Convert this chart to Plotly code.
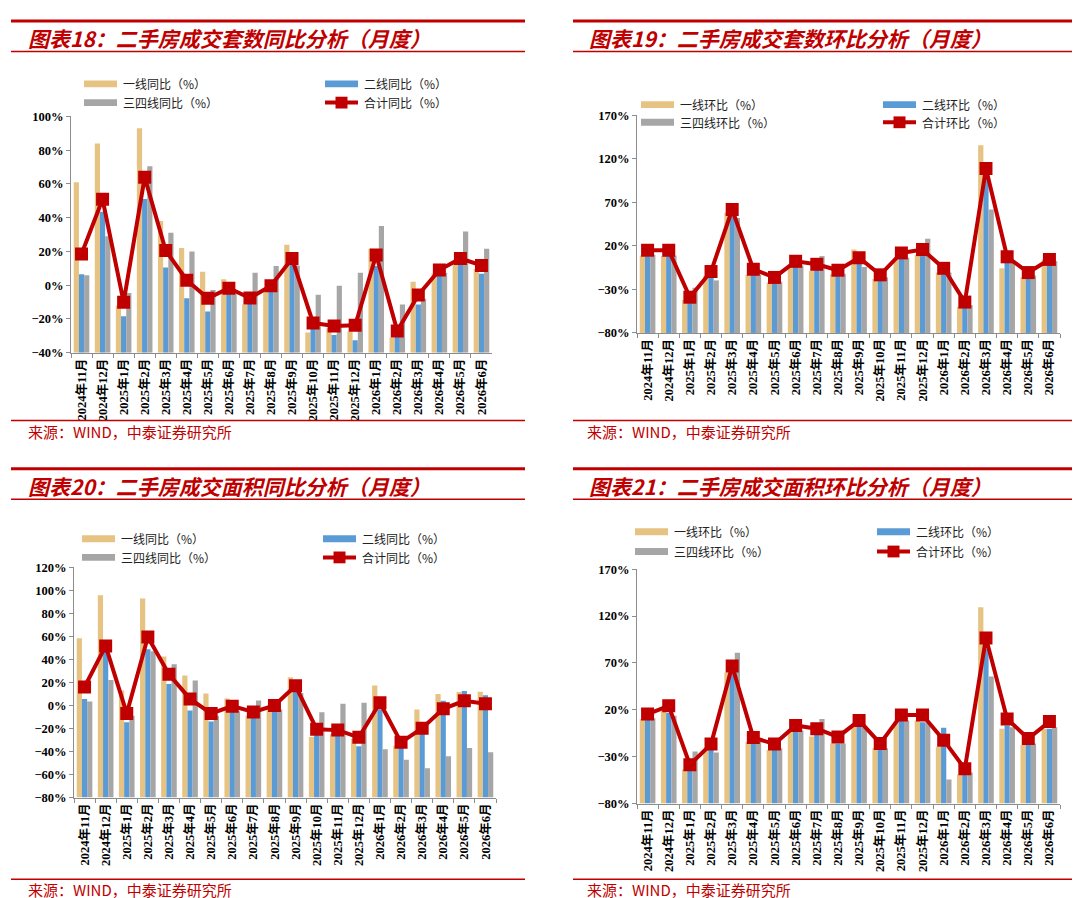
import plotly.graph_objects as go

W, H = 1080, 898
RED = "#C00000"
C_T1 = "#E6C382"
C_T2 = "#5B9BD5"
C_T34 = "#A6A6A6"

months = ["2024年11月", "2024年12月", "2025年1月", "2025年2月", "2025年3月",
          "2025年4月", "2025年5月", "2025年6月", "2025年7月", "2025年8月",
          "2025年9月", "2025年10月", "2025年11月", "2025年12月", "2026年1月",
          "2026年2月", "2026年3月", "2026年4月", "2026年5月", "2026年6月"]

# 图表18 套数同比 (%)
t1_yoy_units = [61, 84, -12, 93, 38, 22, 8, 3.5, -11.5, -3, 24, -28, -25.5, -27.5, 21.5, -31, 2, 7, 13, 9.5]
t2_yoy_units = [6.5, 43.5, -18.5, 51, 10.5, -7.8, -15.6, -5.3, -10, -3, 13, -25.5, -29.6, -32.7, 11.3, -30, -11.5, 5.5, 12, 6.8]
t34_yoy_units = [5.8, 29, -4.7, 70.5, 31, 20, -2.9, -5, 7.4, 11.3, 11.7, -5.7, -0.4, 7.4, 35, -11.5, -8, 7.4, 31.8, 21.6]
total_yoy_units = [18.5, 50.9, -10.1, 63.9, 20.5, 2.9, -7.8, -1.8, -7.6, -0.4, 15.8, -22.4, -24.2, -23.8, 17.9, -27.1, -5.8, 9, 15.8, 11.7]

# 图表19 套数环比 (%)
t1_mom_units = [9, 8.3, -42, -14, 58, -13.2, -22, -5, -8.7, -12.5, 15.8, -18, 4.5, 10, -10.6, -50, 135.8, -5.7, -16, 4.5]
t2_mom_units = [10, 8.3, -42, -15, 56, -12.5, -22, -3, -6, -14, 1.5, -18, 6.4, 8.3, -12.5, -50, 97, 2.6, -16, 0.8]
t34_mom_units = [10, 9, -28, -19.6, 52, -13, -21, -2.3, 8.3, -12, -4.2, -16, 6.4, 28.3, -10.6, -48, 62, 0.8, -14, 2.6]
total_mom_units = [15.1, 15, -38.9, -9.4, 61.9, -6.8, -16.2, 2.3, -1.1, -7.9, 6.4, -13.2, 12, 15.8, -5.7, -44.5, 109, 7.5, -10.6, 4.5]

# 图表20 面积同比 (%)
t1_yoy_area = [58.3, 95.7, 13, 92.9, 42.6, 26, 10.3, 6, -9, -3.4, 24.6, -27.4, -24.9, -29, 17.4, -34.9, -3.4, 10, 11.7, 12]
t2_yoy_area = [5.7, 46.6, -14.6, 48.9, 18.6, -4.3, -14, -3.4, -10.6, -5, 13.7, -23.4, -26, -35.4, -3.4, -36.3, -23.4, 4, 12.6, 8.9]
t34_yoy_area = [3.4, 22, -9, 47, 35.7, 21.7, -9, -5, 4.3, -3.4, 10.9, -6, 1.4, 2.3, -38, -47.1, -54.6, -44, -36.9, -40.6]
total_yoy_area = [16, 51.7, -6.9, 59.4, 27.1, 5.7, -6.9, -0.6, -5.7, 0, 17.1, -20.6, -21.4, -27.7, 2.3, -32, -19.7, -2.9, 4, 1.4]

# 图表21 面积环比 (%)
t1_mom_area = [10.2, 19, -43.8, -22.9, 59.7, -14.2, -22.9, -3.7, -8.6, -16, 3.3, -21, 6.8, 8.5, -19.4, -49, 129.5, -0.2, -17.7, -0.2]
t2_mom_area = [10, 16.5, -42, -21.1, 59, -14.9, -22.9, -3, -3.7, -16, 3.3, -21, 8.5, 6.8, 0.8, -49, 85.2, 3.3, -17.7, -0.2]
t34_mom_area = [11, 13.7, -24.6, -25.7, 81, -14.2, -21, -2, 10.2, -16, 1.5, -21, 8.5, 6.8, -54.3, -47, 55.6, 1.5, -16, 1.5]
total_mom_area = [15.5, 24.2, -38.6, -16.6, 66.7, -9.6, -16.6, 3.3, -0.2, -8.9, 8.5, -15.9, 14.4, 14.4, -12.4, -43, 96.7, 10.2, -10.7, 7.4]

yoy_names = ["一线同比（%）", "二线同比（%）", "三四线同比（%）", "合计同比（%）"]
mom_names = ["一线环比（%）", "二线环比（%）", "三四线环比（%）", "合计环比（%）"]


def fx(x):
    return x / W


def fy(y):
    return 1 - y / H


# layout of each panel, in pixels of the 1080x898 page
panels = [
    dict(title="图表18：二手房成交套数同比分析（月度）", names=yoy_names,
         series=(t1_yoy_units, t2_yoy_units, t34_yoy_units, total_yoy_units),
         yr=(-40, 100), dtick=20, plot=(63, 484, 103, 343),
         lx=(3, 517), top=6, thin=37, src=412, tx=18, ty=23, sx=18, sy=423,
         leg=(76, 317, 70, 89)),
    dict(title="图表19：二手房成交套数环比分析（月度）", names=mom_names,
         series=(t1_mom_units, t2_mom_units, t34_mom_units, total_mom_units),
         yr=(-80, 170), dtick=50, plot=(629, 1052, 102, 323),
         lx=(565, 1078), top=6, thin=37, src=412, tx=579, ty=23, sx=577, sy=423,
         leg=(633, 875, 91, 109)),
    dict(title="图表20：二手房成交面积同比分析（月度）", names=yoy_names,
         series=(t1_yoy_area, t2_yoy_area, t34_yoy_area, total_yoy_area),
         yr=(-80, 120), dtick=20, plot=(66, 488, 561, 795),
         lx=(3, 517), top=461, thin=492, src=878, tx=18, ty=478, sx=18, sy=888,
         leg=(74, 315, 532, 551)),
    dict(title="图表21：二手房成交面积环比分析（月度）", names=mom_names,
         series=(t1_mom_area, t2_mom_area, t34_mom_area, total_mom_area),
         yr=(-80, 170), dtick=50, plot=(629, 1052, 563, 801),
         lx=(565, 1078), top=461, thin=492, src=878, tx=579, ty=478, sx=577, sy=888,
         leg=(627, 869, 525, 545)),
]

TICK_FONT = dict(family="Liberation Serif, Noto Sans CJK SC, serif", size=12.5,
                 color="#000000", weight="bold")
CJK = "Noto Sans CJK SC, sans-serif"

fig = go.Figure()
shapes = []
annotations = []
layout = {}

for i, p in enumerate(panels):
    s = "" if i == 0 else str(i + 1)
    xa, ya = "x" + s, "y" + s
    ymin, ymax = p["yr"]
    x0, x1, y0, y1 = p["plot"]

    # bars start from the bottom of the axis, as in the original Excel chart
    for vals, col, name in zip(p["series"][:3], (C_T1, C_T2, C_T34), p["names"][:3]):
        fig.add_trace(go.Bar(
            x=months, y=[v - ymin for v in vals], base=ymin,
            customdata=vals, hovertemplate="%{x}<br>%{customdata}%<extra>" + name + "</extra>",
            marker=dict(color=col, line=dict(width=0)),
            name=name, showlegend=False, xaxis=xa, yaxis=ya))

    fig.add_trace(go.Scatter(
        x=months, y=p["series"][3], mode="lines+markers", name=p["names"][3],
        line=dict(color=RED, width=4),
        marker=dict(symbol="square", size=13, color=RED),
        showlegend=False, xaxis=xa, yaxis=ya))

    layout["xaxis" + s] = dict(
        domain=[fx(x0), fx(x1)], anchor=ya, type="category",
        categoryorder="array", categoryarray=months, range=[-0.5, len(months) - 0.5],
        tickangle=-90, tickson="boundaries", ticks="outside", ticklen=4,
        tickcolor="#8c8c8c", showline=True, linecolor="#8c8c8c", linewidth=1,
        showgrid=False, tickfont=TICK_FONT, fixedrange=True)
    layout["yaxis" + s] = dict(
        domain=[fy(y1), fy(y0)], anchor=xa, range=[ymin, ymax],
        tick0=ymin, dtick=p["dtick"], ticksuffix="%", ticks="outside", ticklen=4,
        tickcolor="#8c8c8c", showline=True, linecolor="#8c8c8c", linewidth=1,
        showgrid=False, zeroline=False, tickfont=TICK_FONT, fixedrange=True)

    # red header / footer rules
    lx0, lx1 = p["lx"]
    for yy, w in ((p["top"], 3), (p["thin"], 1.5), (p["src"], 1.5)):
        shapes.append(dict(type="line", xref="paper", yref="paper",
                           x0=fx(lx0), x1=fx(lx1), y0=fy(yy), y1=fy(yy),
                           line=dict(color=RED, width=w)))

    annotations.append(dict(text=p["title"], x=fx(p["tx"]), y=fy(p["ty"]),
                            xref="paper", yref="paper", xanchor="left", yanchor="middle",
                            showarrow=False,
                            font=dict(family=CJK, size=21, color=RED, weight="bold", style="italic")))
    annotations.append(dict(text="来源：WIND，中泰证券研究所", x=fx(p["sx"]), y=fy(p["sy"]),
                            xref="paper", yref="paper", xanchor="left", yanchor="middle",
                            showarrow=False, font=dict(family=CJK, size=15, color=RED)))

    # legend, two columns by two rows
    c1, c2, r1, r2 = p["leg"]
    items = [(c1, r1, C_T1, "bar"), (c2, r1, C_T2, "bar"),
             (c1, r2, C_T34, "bar"), (c2, r2, RED, "line")]
    for (lx, ly, col, kind), name in zip(items, p["names"]):
        if kind == "bar":
            shapes.append(dict(type="rect", xref="paper", yref="paper",
                               x0=fx(lx), x1=fx(lx + 33), y0=fy(ly + 3.5), y1=fy(ly - 3.5),
                               fillcolor=col, line=dict(width=0)))
        else:
            shapes.append(dict(type="line", xref="paper", yref="paper",
                               x0=fx(lx), x1=fx(lx + 33), y0=fy(ly), y1=fy(ly),
                               line=dict(color=RED, width=4)))
            shapes.append(dict(type="rect", xref="paper", yref="paper",
                               x0=fx(lx + 10.5), x1=fx(lx + 22.5), y0=fy(ly + 6), y1=fy(ly - 6),
                               fillcolor=RED, line=dict(width=0)))
        annotations.append(dict(text=name, x=fx(lx + 37), y=fy(ly), xref="paper", yref="paper",
                                xanchor="left", yanchor="middle", showarrow=False,
                                font=dict(family=CJK, size=12, color="#222222")))

fig.update_layout(
    width=W, height=H, margin=dict(l=0, r=0, t=0, b=0),
    paper_bgcolor="white", plot_bgcolor="white",
    barmode="group", bargap=0.26, bargroupgap=0,
    shapes=shapes, annotations=annotations, showlegend=False,
    **layout)

fig.write_html("out.html")
